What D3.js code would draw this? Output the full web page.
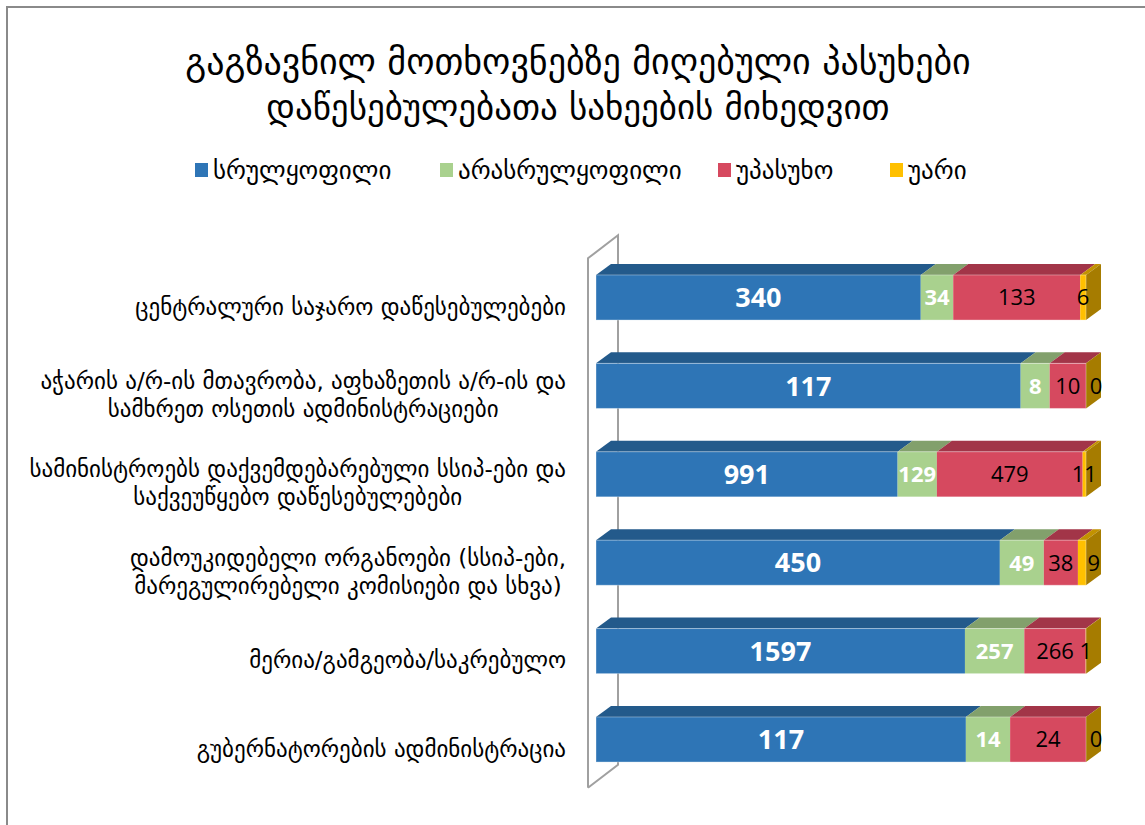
<!DOCTYPE html>
<html><head><meta charset="utf-8">
<script src="https://cdn.jsdelivr.net/npm/d3@7/dist/d3.min.js"></script>
<style>body{margin:0;background:#fff}svg{display:block}</style>
</head><body>
<svg id="c" width="1145" height="825"></svg>
<script>
const titleLines = ["გაგზავნილ მოთხოვნებზე მიღებული პასუხები", "დაწესებულებათა სახეების  მიხედვით"];
const seriesNames = ["სრულყოფილი", "არასრულყოფილი", "უპასუხო", "უარი"];
const categories = [
  ["ცენტრალური საჯარო დაწესებულებები"],
  ["აჭარის ა/რ-ის მთავრობა, აფხაზეთის ა/რ-ის  და", "სამხრეთ ოსეთის ადმინისტრაციები"],
  ["სამინისტროებს დაქვემდებარებული სსიპ-ები და", "საქვეუწყებო დაწესებულებები"],
  ["დამოუკიდებელი ორგანოები (სსიპ-ები,", "მარეგულირებელი კომისიები და სხვა)"],
  ["მერია/გამგეობა/საკრებულო"],
  ["გუბერნატორების ადმინისტრაცია"]
];
const complete   = [340, 117, 991, 450, 1597, 117];
const incomplete = [34, 8, 129, 49, 257, 14];
const noAnswer   = [133, 10, 479, 38, 266, 24];
const refused    = [6, 0, 11, 9, 1, 0];

const front = ["#2E75B6", "#A9D18E", "#D6495F", "#FFC000"];
const topC  = ["#235A8B", "#82A06C", "#A23548", "#C29200"];
const sideC = "#A67C00";
const labelStyle = [
  {fill:"#fff", weight:"bold", size:27},
  {fill:"#fff", weight:"bold", size:22},
  {fill:"#000", weight:"normal", size:22},
  {fill:"#000", weight:"normal", size:22}
];
const GEO = "'DejaVu Sans', sans-serif";
const NUM = "'Open Sans', sans-serif";

const svg = d3.select("#c");
// outer border
svg.append("path").attr("d","M7,826 L7,7 L1146,7").attr("fill","none").attr("stroke","#8a8a8a").attr("stroke-width",2);

// title
titleLines.forEach((t,i)=>{
  svg.append("text").attr("x",578).attr("y",74+i*45).attr("text-anchor","middle")
    .attr("font-family",GEO).attr("font-size",i===0?36:35).attr("fill","#000").text(t);
});

// legend
const legX = [195, 440, 718, 890];
seriesNames.forEach((s,i)=>{
  svg.append("rect").attr("x",legX[i]).attr("y",163).attr("width",13).attr("height",14).attr("fill",front[i]);
  svg.append("text").attr("x",legX[i]+18).attr("y",179).attr("font-family",GEO).attr("font-size",25).attr("fill","#000").text(s);
});

const series = [complete, incomplete, noAnswer, refused];
const data = categories.map((c,i)=>{
  const vals = series.map(s=>s[i]);
  const tot = d3.sum(vals);
  let acc = 0;
  const segs = vals.map((v,k)=>{const s={k, v, f0:acc/tot, f1:(acc+v)/tot}; acc+=v; return s;});
  return {c, i, segs};
});

const x = d3.scaleLinear().domain([0,1]).range([596,1086]);
const y = d3.scaleBand().domain(d3.range(categories.length)).range([253.3,783.7]).paddingInner(0.49).paddingOuter(0.245);
const dx = 15, dy = 11;

// wall
const wallTop = y.range()[0], wallBot = y.range()[1];
svg.append("path")
  .attr("d",`M588,${wallBot+4} L588,${wallTop+5} L618,${wallTop-18} L618,${wallBot-19} L588,${wallBot+4}`)
  .attr("fill","none").attr("stroke","#a0a0a0").attr("stroke-width",2).attr("stroke-linejoin","miter");

const g = svg.append("g");
data.forEach(d=>{
  const y0 = y(d.i), h = y.bandwidth();
  d.segs.forEach(s=>{
    const x0 = x(s.f0), x1 = x(s.f1);
    if (x1 - x0 <= 0) return;
    g.append("path").attr("d",`M${x0},${y0} L${x0+dx},${y0-dy} L${x1+dx},${y0-dy} L${x1},${y0} Z`).attr("fill",topC[s.k]);
    g.append("rect").attr("x",x0).attr("y",y0).attr("width",x1-x0).attr("height",h).attr("fill",front[s.k]);
  });
  const xe = x(1);
  g.append("path").attr("d",`M${xe},${y0} L${xe+dx},${y0-dy} L${xe+dx},${y0+h-dy} L${xe},${y0+h} Z`).attr("fill",sideC);
  g.append("rect").attr("x",x(0)).attr("y",y0).attr("width",x(1)-x(0)).attr("height",h).attr("fill","none").attr("stroke","#fff").attr("stroke-opacity",0.35).attr("stroke-width",1);

  // labels
  let prevRight = -Infinity;
  d.segs.forEach(s=>{
    const st = labelStyle[s.k];
    const t = g.append("text").attr("y",y0+h/2).attr("dy","0.36em").attr("text-anchor","middle")
      .attr("font-family",NUM).attr("font-weight",st.weight).attr("font-size",st.size).attr("fill",st.fill).text(s.v);
    const w = t.node().getComputedTextLength();
    let cx = (x(s.f0)+x(s.f1))/2;
    if (s.v === 0 && s.k === 3) cx += 10;
    if (cx - w/2 < prevRight + 4) cx = prevRight + 14 + w/2;
    t.attr("x",cx);
    prevRight = cx + w/2;
  });

  // category label
  const lines = d.c;
  const lh = 28;
  const cy = y0 + h/2 + 9;
  const tmp = lines.map((l,j)=>svg.append("text").attr("font-family",GEO).attr("font-size",23).attr("fill","#000").text(l));
  const maxW = d3.max(tmp, t=>t.node().getComputedTextLength());
  tmp.forEach((t,j)=>{
    t.attr("x",566 - maxW/2).attr("text-anchor","middle")
     .attr("y", cy + (j - (lines.length-1)/2)*lh).attr("dy","0.35em");
  });
});
</script>
</body></html>
